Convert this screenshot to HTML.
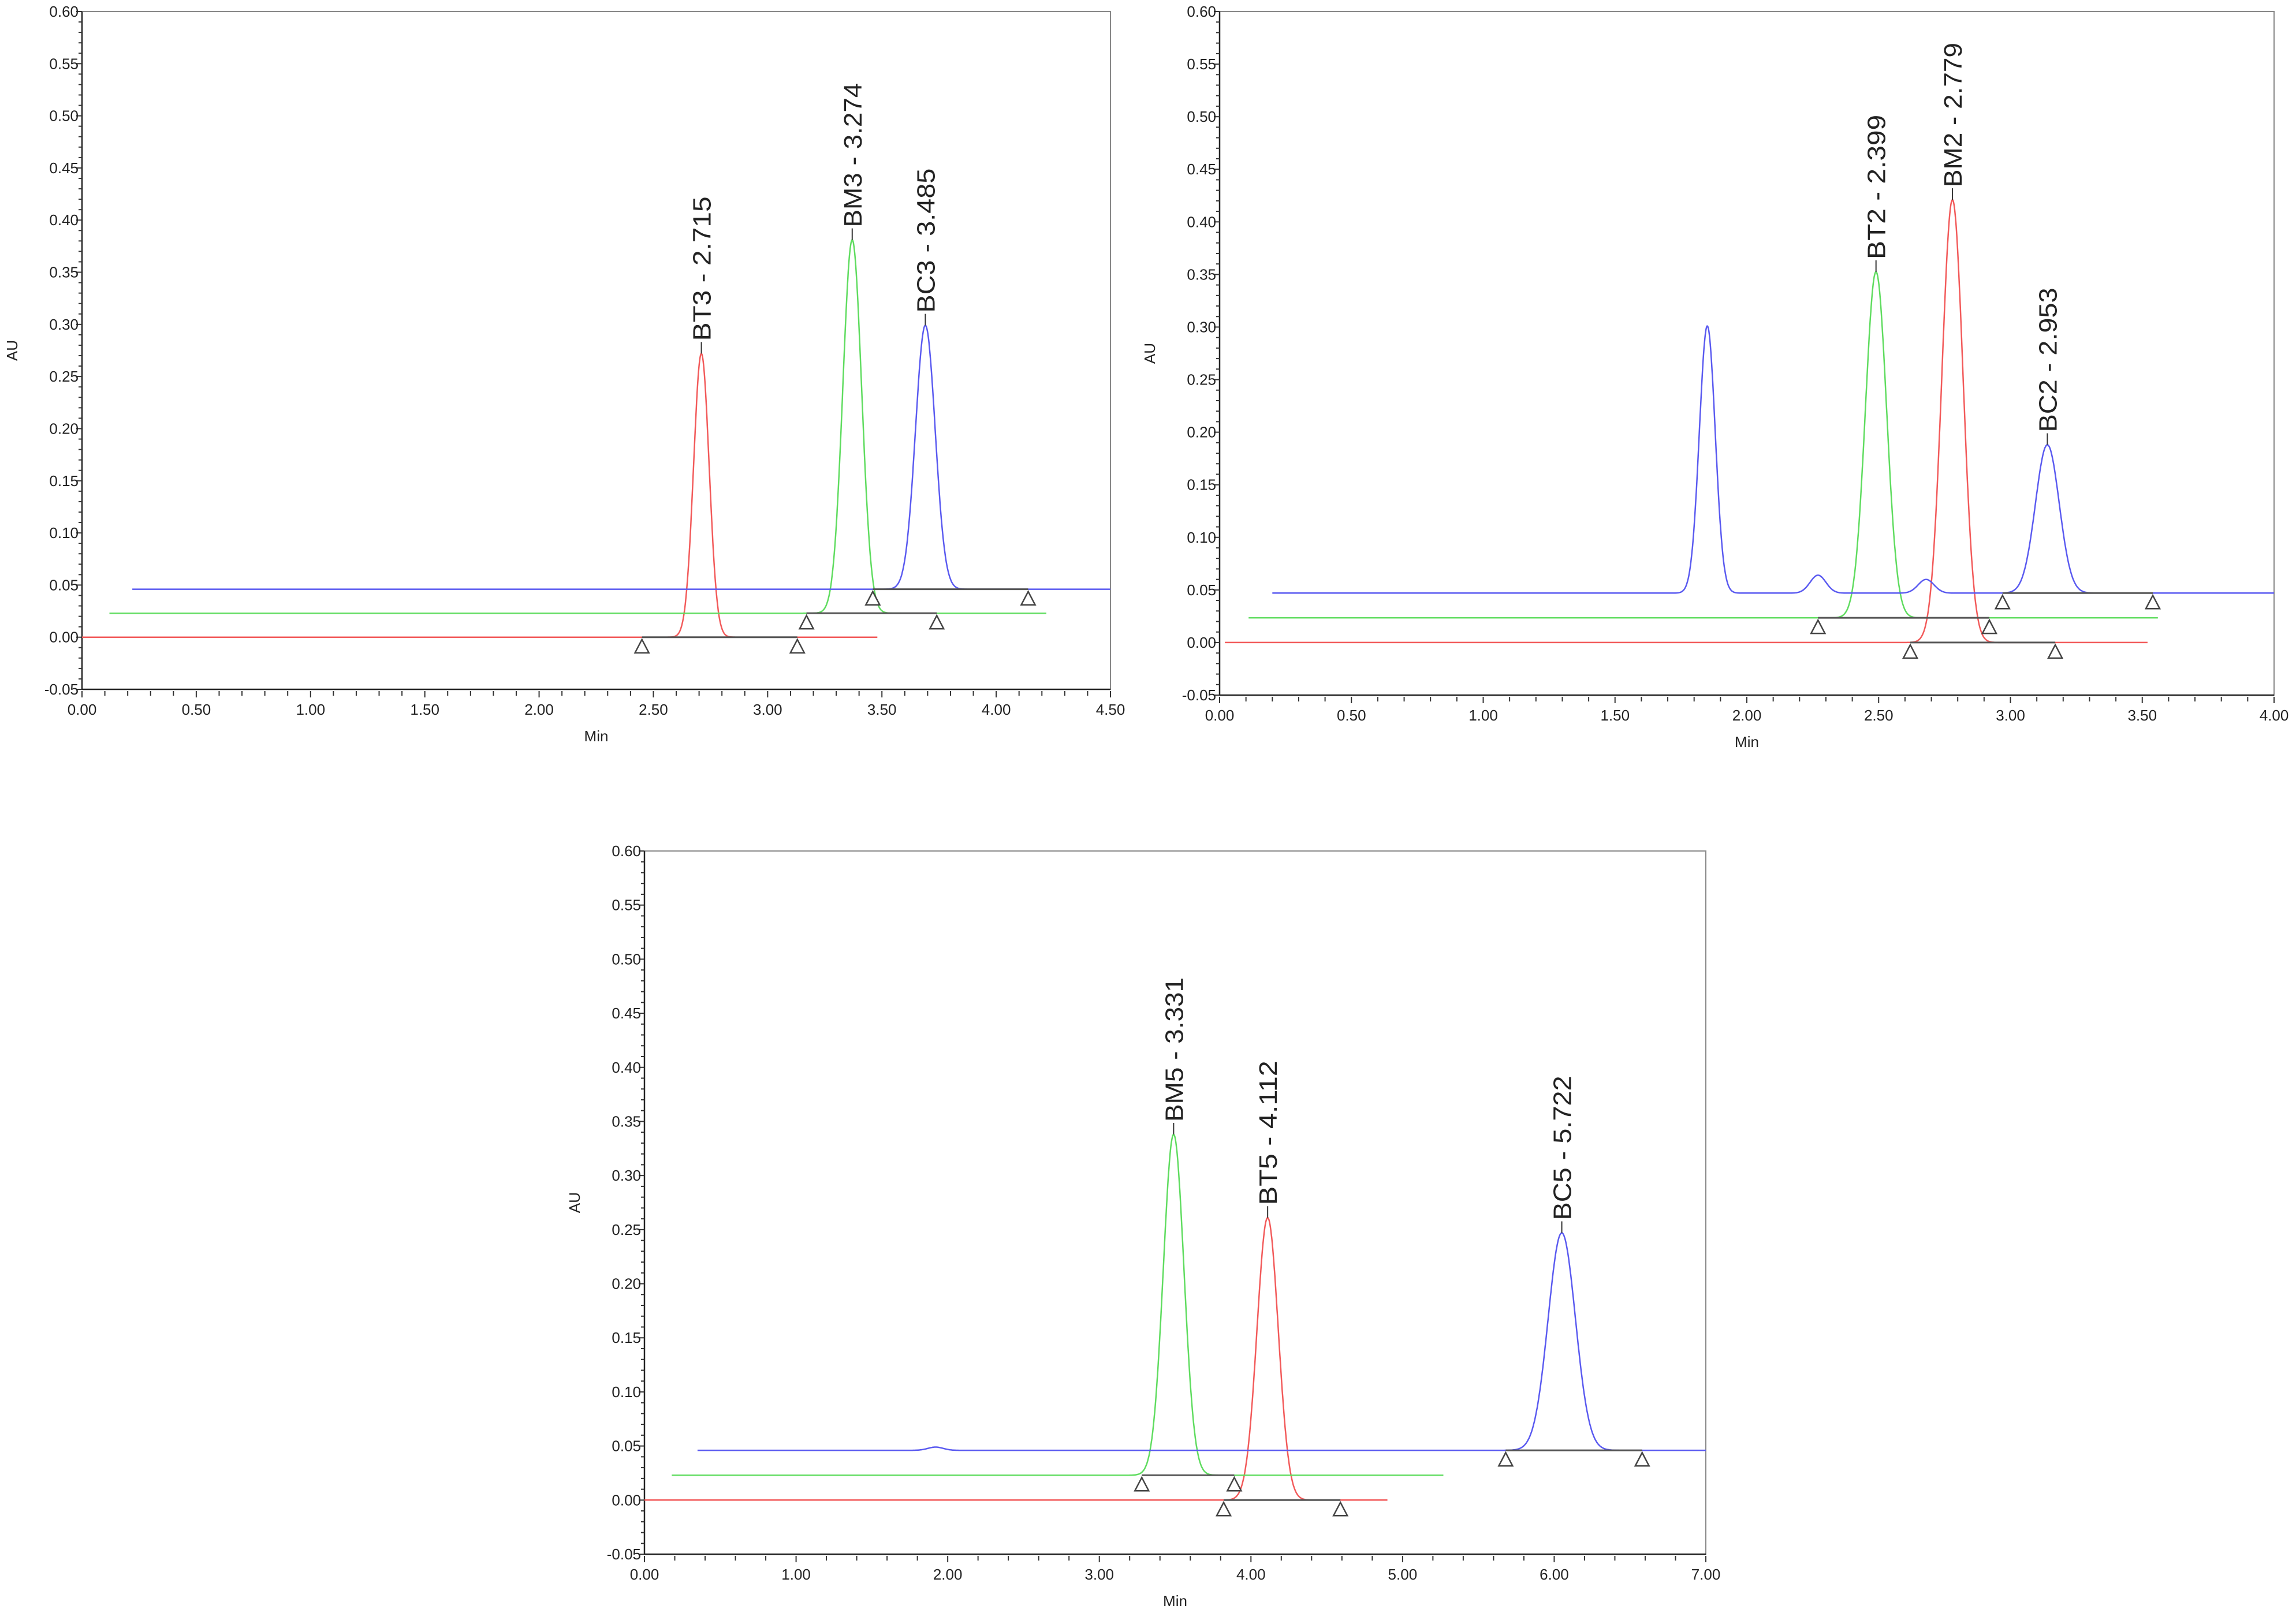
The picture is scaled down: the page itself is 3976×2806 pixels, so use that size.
<!DOCTYPE html>
<html><head><meta charset="utf-8"><style>
html,body{margin:0;padding:0;background:#fff;overflow:hidden}
svg{display:block}
text{font-family:"Liberation Sans",sans-serif}
</style></head><body>
<svg id="chart" width="3976" height="2806" viewBox="0 0 3976 2806" xmlns="http://www.w3.org/2000/svg"></svg>
<script>
// ---- Panel 1 data ----
const p1Series = ['red','green','blue'];
const p1Baselines = [0.000, 0.023, 0.046];
const p1Ranges = [[0.0,3.48],[0.12,4.22],[0.22,4.5]];
const p1PeakSeries = [0,1,2];
const p1PeakTimes = [2.71,3.37,3.69];
const p1PeakHeights = [0.272,0.358,0.253];
const p1PeakSigmas = [0.034,0.041,0.043];
const p1PeakLabels = ['BT3 - 2.715','BM3 - 3.274','BC3 - 3.485'];
const p1IntStart = [2.45,3.17,3.46];
const p1IntEnd = [3.13,3.74,4.14];
// ---- Panel 2 data ----
const p2Series = ['red','green','blue'];
const p2Baselines = [0.000, 0.0235, 0.047];
const p2Ranges = [[0.02,3.52],[0.11,3.56],[0.2,4.0]];
const p2PeakSeries = [2,2,2,1,0,2];
const p2PeakTimes = [1.85,2.27,2.68,2.49,2.78,3.14];
const p2PeakHeights = [0.254,0.017,0.013,0.329,0.421,0.141];
const p2PeakSigmas = [0.03,0.03,0.03,0.04,0.04,0.045];
const p2PeakLabels = ['','','','BT2 - 2.399','BM2 - 2.779','BC2 - 2.953'];
const p2IntStart = [2.62,2.27,2.97];
const p2IntEnd = [3.17,2.92,3.54];
// ---- Panel 3 data ----
const p3Series = ['red','green','blue'];
const p3Baselines = [0.000, 0.023, 0.046];
const p3Ranges = [[0.0,4.9],[0.18,5.27],[0.35,7.0]];
const p3PeakSeries = [1,0,2,2];
const p3PeakTimes = [3.49,4.11,6.05,1.92];
const p3PeakHeights = [0.315,0.261,0.201,0.003];
const p3PeakSigmas = [0.068,0.07,0.09,0.05];
const p3PeakLabels = ['BM5 - 3.331','BT5 - 4.112','BC5 - 5.722',''];
const p3IntStart = [3.82,3.28,5.68];
const p3IntEnd = [4.59,3.89,6.58];

const NS='http://www.w3.org/2000/svg';
const svg=document.getElementById('chart');
const colors={red:'#f25a5a',green:'#5fdc5f',blue:'#5a5af0'};
function mk(tag,attrs,parent){const e=document.createElementNS(NS,tag);for(const k in attrs)e.setAttribute(k,attrs[k]);(parent||svg).appendChild(e);return e;}

function panel(id,box,xmax,xmajor,xminor,d){
  const g=mk('g',{});
  
  
  const X=v=>box.L+(v/xmax)*(box.R-box.L);
  const Y=v=>box.B-(v+0.05)/0.65*(box.B-box.T);
  const fr=mk('rect',{x:box.L,y:box.T,width:box.R-box.L,height:box.B-box.T,fill:'none',stroke:'#888','stroke-width':2},g);
  
  
  mk('line',{x1:box.L,y1:box.T,x2:box.L,y2:box.B,stroke:'#222','stroke-width':2.5},g);
  mk('line',{x1:box.L,y1:box.B,x2:box.R,y2:box.B,stroke:'#222','stroke-width':2.5},g);
  for(let i=-5;i<=60;i++){
    const v=i/100,y=Y(v),maj=(i%5===0);
    mk('line',{x1:box.L-(maj?10:6),y1:y,x2:box.L,y2:y,stroke:'#333','stroke-width':2},g);
    if(maj){const t=mk('text',{x:box.L-6,y:y+9,'text-anchor':'end','font-size':26,fill:'#222'},g);t.textContent=v.toFixed(2);
      }
  }
  const nmin=Math.round(xmax/xminor);
  for(let i=0;i<=nmin;i++){
    const v=i*xminor,x=X(v),maj=Math.abs(v/xmajor-Math.round(v/xmajor))<1e-6;
    mk('line',{x1:x,y1:box.B+3,x2:x,y2:box.B+(maj?14:11),stroke:'#333','stroke-width':2},g);
    if(maj){const t=mk('text',{x:x,y:box.B+44,'text-anchor':'middle','font-size':26,fill:'#222'},g);t.textContent=v.toFixed(2);
      }
  }
  const xt=mk('text',{x:(box.L+box.R)/2,y:box.B+90,'text-anchor':'middle','font-size':26,fill:'#222'},g);xt.textContent='Min';
  
  const cy=(box.T+box.B)/2, ax=box.L-112;
  const yt=mk('text',{x:ax,y:cy,'text-anchor':'middle','font-size':26,fill:'#222',transform:`rotate(-90 ${ax} ${cy})`},g);yt.textContent='AU';
  
  d.series.forEach((c,si)=>{
    const [a,b]=d.ranges[si];let pts=[];
    for(let t=a;t<=b+1e-9;t+=xmax/3000){
      let v=d.base[si];
      d.ps.forEach((s,k)=>{if(s===si){const z=(t-d.pt[k])/d.sg[k];v+=d.ph[k]*Math.exp(-0.5*z*z);}});
      pts.push(X(t).toFixed(1)+','+Y(v).toFixed(1));
    }
    const pl=mk('polyline',{points:pts.join(' '),fill:'none',stroke:colors[c],'stroke-width':2.5},g);
    
    
  });
  d.series.forEach((c,si)=>{
    const y=Y(d.base[si]),x1=X(d.is[si]),x2=X(d.ie[si]);
    const ln=mk('line',{x1:x1,y1:y,x2:x2,y2:y,stroke:'#555','stroke-width':3},g);
    
    
    [x1,x2].forEach(x=>{
      const tr=mk('polygon',{points:`${x},${y+4} ${x-12},${y+27} ${x+12},${y+27}`,fill:'#fff',stroke:'#444','stroke-width':2.5},g);
      
      
    });
  });
  d.pl.forEach((lab,k)=>{
    if(!lab)return;
    const x=X(d.pt[k]),top=Y(d.base[d.ps[k]]+d.ph[k]);
    mk('line',{x1:x,y1:top,x2:x,y2:top-20,stroke:'#333','stroke-width':2},g);
    const ty=top-22, tx=x+16;
    const t=mk('text',{x:tx,y:ty,'font-size':44,fill:'#222',textLength:250,lengthAdjust:'spacingAndGlyphs',transform:`rotate(-90 ${tx} ${ty})`},g);
    t.textContent=lab;
    
    
  });
}
panel('panel-1',{L:142,R:1923,T:20,B:1194},4.5,0.5,0.1,{series:p1Series,base:p1Baselines,ranges:p1Ranges,ps:p1PeakSeries,pt:p1PeakTimes,ph:p1PeakHeights,sg:p1PeakSigmas,pl:p1PeakLabels,is:p1IntStart,ie:p1IntEnd});
panel('panel-2',{L:2112,R:3938,T:20,B:1204},4.0,0.5,0.1,{series:p2Series,base:p2Baselines,ranges:p2Ranges,ps:p2PeakSeries,pt:p2PeakTimes,ph:p2PeakHeights,sg:p2PeakSigmas,pl:p2PeakLabels,is:p2IntStart,ie:p2IntEnd});
panel('panel-3',{L:1116,R:2954,T:1474,B:2692},7.0,1.0,0.2,{series:p3Series,base:p3Baselines,ranges:p3Ranges,ps:p3PeakSeries,pt:p3PeakTimes,ph:p3PeakHeights,sg:p3PeakSigmas,pl:p3PeakLabels,is:p3IntStart,ie:p3IntEnd});
</script>
</body></html>
